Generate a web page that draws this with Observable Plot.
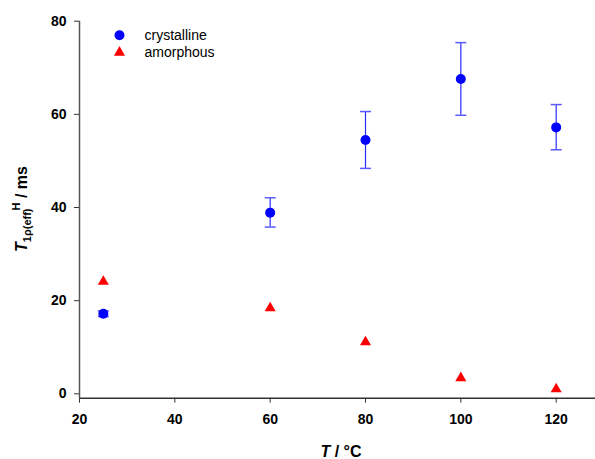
<!DOCTYPE html>
<html>
<head>
<meta charset="utf-8">
<script src="https://cdn.jsdelivr.net/npm/d3@7"></script>
<script src="https://cdn.jsdelivr.net/npm/@observablehq/plot@0.6"></script>
<style>
  html, body { margin: 0; padding: 0; background: #fff; }
  #chart { width: 595px; height: 459px; }
</style>
</head>
<body>
<div id="chart"></div>
<script>
// Data
const temperatures = [25, 60, 80, 100, 120];
const crystalline = [17.2, 38.9, 54.5, 67.6, 57.2];
const crystallineErrLow = [16.6, 35.8, 48.4, 59.8, 52.4];
const crystallineErrHigh = [17.8, 42.1, 60.6, 75.4, 62.1];
const amorphous = [24.1, 18.4, 11.1, 3.4, 1.0];
const xTicks = [20, 40, 60, 80, 100, 120];
const yTicks = [0, 20, 40, 60, 80];
const seriesNames = ["crystalline", "amorphous"];
const seriesColors = ["#0000ff", "#ff0000"];
const seriesSymbols = ["circle", "triangle"];

const cryst = temperatures.map((T, i) => ({T, v: crystalline[i], lo: crystallineErrLow[i], hi: crystallineErrHigh[i]}));
const amor = temperatures.map((T, i) => ({T, v: amorphous[i]}));
const legend = seriesNames.map((name, i) => ({name, color: seriesColors[i], symbol: seriesSymbols[i], i}));

const capSymbol = {
  draw(context, size) {
    const w = 5.5;
    context.moveTo(-w, 0);
    context.lineTo(w, 0);
  }
};

const xDomain = [20, 128.25];
const yDomain = [-0.94, 80];
const font = "'Liberation Sans', Arial, sans-serif";

const legendMarks = legend.flatMap(d => [
  Plot.dot([d], {frameAnchor: "top-left", dx: 40, dy: 14 + d.i * 17.3, fill: d.color, symbol: d.symbol, r: d.i === 0 ? 5 : 4.1}),
  Plot.text([d], {frameAnchor: "top-left", dx: 65, dy: 14 + d.i * 17.3, text: "name", textAnchor: "start", lineAnchor: "middle", fontSize: 14, fill: "#000"})
]);

const plot = Plot.plot({
  width: 595,
  height: 459,
  marginLeft: 79,
  marginRight: 0,
  marginTop: 20.7,
  marginBottom: 61.3,
  style: {fontFamily: font, background: "#fff"},
  x: {domain: xDomain},
  y: {domain: yDomain},
  marks: [
    Plot.axisX({ticks: xTicks, tickSize: 5, tickPadding: 11, fontSize: 14, fontWeight: "bold", label: null, stroke: "#333", color: "#000"}),
    Plot.axisY({ticks: yTicks, tickSize: 5, tickPadding: 8, fontSize: 14, fontWeight: "bold", label: null, stroke: "#333", color: "#000"}),
    Plot.ruleX([xDomain[0]], {y1: yDomain[0], y2: yDomain[1], stroke: "#555", strokeWidth: 1.5}),
    Plot.ruleY([yDomain[0]], {x1: xDomain[0], x2: xDomain[1], stroke: "#333", strokeWidth: 1.5}),
    // error bars
    Plot.ruleX(cryst, {x: "T", y1: "lo", y2: "hi", stroke: "#2a2aff", strokeWidth: 1.2}),
    Plot.dot(cryst, {x: "T", y: "hi", symbol: capSymbol, stroke: "#5a5aff", strokeWidth: 1.5, r: 5}),
    Plot.dot(cryst, {x: "T", y: "lo", symbol: capSymbol, stroke: "#5a5aff", strokeWidth: 1.5, r: 5}),
    // points
    Plot.dot(cryst, {x: "T", y: "v", r: 5, fill: seriesColors[0], symbol: "circle"}),
    Plot.dot(amor, {x: "T", y: "v", r: 4.1, fill: seriesColors[1], symbol: "triangle"}),
    ...legendMarks
  ]
});

const svg = d3.select(plot);
// x-axis title
const xt = svg.append("text")
  .attr("x", 341).attr("y", 457)
  .attr("text-anchor", "middle")
  .attr("font-family", font).attr("font-size", 16).attr("font-weight", "bold").attr("fill", "#000");
xt.append("tspan").attr("font-style", "italic").text("T");
xt.append("tspan").text(" / °C");

// y-axis title
const yt = svg.append("text")
  .attr("transform", "translate(27,209) rotate(-90)")
  .attr("text-anchor", "middle")
  .attr("font-family", font).attr("font-size", 16).attr("font-weight", "bold").attr("fill", "#000");
yt.append("tspan").attr("font-style", "italic").text("T");
yt.append("tspan").attr("font-size", 11).attr("dy", 4).text("1ρ(eff)");
yt.append("tspan").attr("font-size", 11).attr("dy", -11).attr("dx", -2).text("H");
yt.append("tspan").attr("dy", 7).text(" / ms");

document.getElementById("chart").appendChild(plot);
</script>
</body>
</html>
